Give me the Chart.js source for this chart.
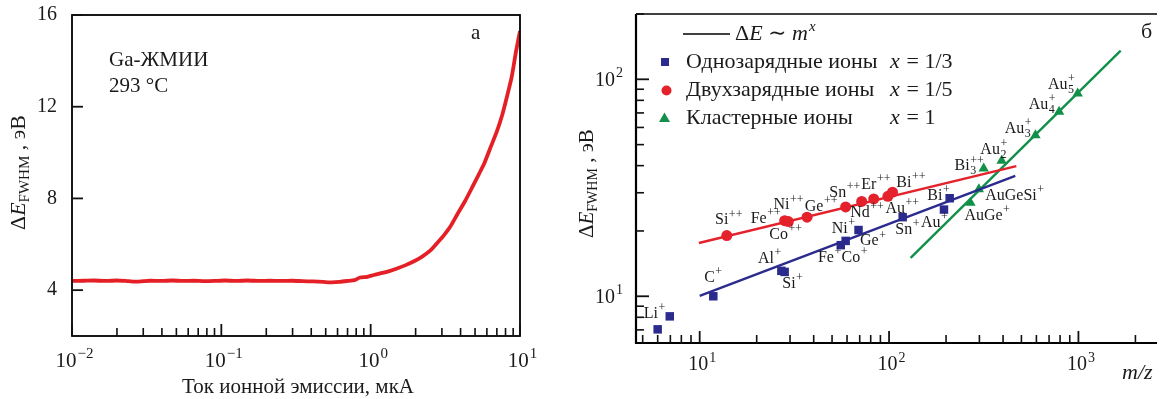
<!DOCTYPE html>
<html>
<head>
<meta charset="utf-8">
<script src="https://cdn.jsdelivr.net/npm/chart.js@4.4.1/dist/chart.umd.min.js"></script>
<style>
  html, body { margin: 0; padding: 0; background: #fff; }
  #wrap { position: relative; width: 1163px; height: 399px; overflow: hidden; }
  .panel { position: absolute; top: 0; height: 399px; }
  #panel-a { left: 0; width: 550px; }
  #panel-b { left: 560px; width: 603px; }
</style>
</head>
<body>
<div id="wrap">
  <div class="panel" id="panel-a"><canvas id="chart-a"></canvas></div>
  <div class="panel" id="panel-b"><canvas id="chart-b"></canvas></div>
</div>
<script>
// ---- Panel а: energy spread of Ga LMIS vs emission current ----
const emissionCurrent = [
  0.010, 0.012, 0.014, 0.017, 0.020, 0.024, 0.028, 0.033, 0.040, 0.047,
  0.055, 0.065, 0.077, 0.090, 0.105, 0.125, 0.15, 0.18, 0.21, 0.25,
  0.30, 0.35, 0.41, 0.48, 0.55, 0.62, 0.70, 0.78, 0.85, 0.95,
  1.05, 1.2, 1.35, 1.5, 1.7, 1.95, 2.2, 2.5, 2.8, 3.1,
  3.4, 3.8, 4.3, 4.8, 5.3, 5.8, 6.4, 7.0, 7.6, 8.2,
  8.8, 9.4, 10.0
];
const energySpread = [
  4.40, 4.41, 4.42, 4.40, 4.42, 4.39, 4.37, 4.41, 4.40, 4.42,
  4.40, 4.41, 4.39, 4.40, 4.42, 4.40, 4.42, 4.40, 4.41, 4.40,
  4.41, 4.39, 4.38, 4.36, 4.34, 4.36, 4.40, 4.44, 4.55, 4.58,
  4.66, 4.75, 4.84, 4.94, 5.08, 5.26, 5.45, 5.72, 6.07, 6.40,
  6.75, 7.30, 7.90, 8.50, 9.05, 9.57, 10.28, 10.92, 11.64, 12.47,
  13.30, 14.40, 15.30
];
const currentTicks = [0.01, 0.1, 1, 10];
const currentTickExp = ['−2', '−1', '0', '1'];
const spreadTicks = [4, 8, 12, 16];

// ---- Panel б: energy spread vs m/z for different ion kinds ----
const singlyMz = [6.0, 6.95, 11.8, 27.0, 28.1, 55.6, 59.0, 69.0, 118, 195, 209];
const singlyDE = [7.04, 8.08, 10.0, 13.1, 12.95, 17.2, 18.0, 20.2, 23.15, 25.1, 28.3];
const doublyMz = [13.9, 28.1, 29.4, 36.9, 59.0, 71.7, 83.0, 98.6, 104.3];
const doublyDE = [19.05, 22.3, 22.1, 23.15, 25.8, 27.35, 28.1, 28.9, 30.2];
const clusterMz = [269, 298, 316, 393, 593, 791, 991];
const clusterDE = [26.96, 31.1, 38.8, 42.1, 55.3, 70.9, 86.1];

// fitted power laws ΔE ~ m^x, drawn between their end points
const fitSinglyMz = [10, 464];
const fitSinglyDE = [10.03, 35.9];
const fitDoublyMz = [9.9, 470];
const fitDoublyDE = [17.6, 39.8];
const fitClusterMz = [130, 1672];
const fitClusterDE = [15.03, 135.6];

const mzTicks = [10, 100, 1000];
const mzTickExp = ['1', '2', '3'];
const deTicks = [10, 100];
const deTickExp = ['1', '2'];

// ion name, superscript, subscript, anchor m/z, anchor ΔE
const ionLabels = [
  ['Li', '+', '', 5.07, 8.32],
  ['C', '+', '', 10.56, 12.2],
  ['Al', '+', '', 20.3, 14.93],
  ['Si', '+', '', 27.3, 11.45],
  ['Fe', '+', '', 42.1, 15.09],
  ['Co', '+', '', 56.1, 15.09],
  ['Ni', '+', '', 49.8, 20.5],
  ['Ge', '+', '', 70.3, 17.94],
  ['Sn', '+', '', 107.9, 20.3],
  ['Nd', '++', '', 62.4, 24.2],
  ['Au', '++', '', 95.7, 25.4],
  ['Au', '+', '', 147.5, 21.9],
  ['Bi', '+', '', 159.3, 29.2],
  ['Si', '++', '', 12.05, 22.4],
  ['Fe', '++', '', 18.6, 22.8],
  ['Co', '++', '', 23.3, 19.3],
  ['Ni', '++', '', 24.5, 26.3],
  ['Ge', '++', '', 35.9, 25.8],
  ['Sn', '++', '', 48.4, 30.0],
  ['Er', '++', '', 71.4, 32.8],
  ['Bi', '++', '', 109.2, 33.3],
  ['Bi', '++', '3', 221.8, 39.8],
  ['Au', '+', '2', 303.4, 47.2],
  ['Au', '+', '3', 408.3, 59.4],
  ['Au', '+', '4', 547, 76.1],
  ['Au', '+', '5', 690, 94.1],
  ['AuGeSi', '+', '', 322, 29.2],
  ['AuGe', '+', '', 250, 23.6]
];

const SERIF = '"Liberation Serif", "DejaVu Serif", serif';
const INK = '#1a1a1a';
const TICK = '#111';
const BLUE = '#2b2b8e';
const RED = '#e4222b';
const GREEN = '#109049';

Chart.defaults.font.family = SERIF;
Chart.defaults.color = INK;

// minor log ticks 2..9 inside every decade
function minorTicks(decades, lo, hi) {
  const out = [];
  decades.forEach(d => {
    for (let k = 2; k <= 9; k++) {
      if (k * d > lo && k * d <= hi) out.push(k * d);
    }
  });
  return out;
}

function toPoints(xs, ys) {
  return xs.map((x, i) => ({ x: x, y: ys[i] }));
}

// inward tick marks drawn as thin filled bars along the bottom or left side
function tickBars(ctx, scale, values, len, width, horizontal, area) {
  values.forEach(v => {
    const p = scale.getPixelForValue(v);
    if (!isFinite(p)) return;
    if (horizontal) {
      ctx.fillRect(p - width / 2, area.bottom - len, width, len);
    } else {
      ctx.fillRect(area.left, p - width / 2, len, width);
    }
  });
}

// "10" with a raised exponent
function powerLabel(ctx, cx, cy, exp, size, align) {
  ctx.font = size + 'px ' + SERIF;
  const wb = ctx.measureText('10').width;
  ctx.font = Math.round(size * 0.7) + 'px ' + SERIF;
  const we = ctx.measureText(exp).width;
  let x0 = cx - (wb + we) / 2;
  if (align === 'right') x0 = cx - wb - we;
  ctx.textAlign = 'left';
  ctx.textBaseline = 'middle';
  ctx.font = size + 'px ' + SERIF;
  ctx.fillText('10', x0, cy);
  ctx.font = Math.round(size * 0.7) + 'px ' + SERIF;
  ctx.fillText(exp, x0 + wb + 1, cy - size * 0.33);
}

// ΔE_FWHM, эВ written bottom-to-top
function yTitle(ctx, cx, startY, size, subSize) {
  ctx.save();
  ctx.translate(cx, startY);
  ctx.rotate(-Math.PI / 2);
  ctx.textAlign = 'left';
  ctx.textBaseline = 'middle';
  ctx.fillStyle = INK;
  let x = 0;
  const put = (t, font, dy) => {
    ctx.font = font;
    ctx.fillText(t, x, dy);
    x += ctx.measureText(t).width;
  };
  put('Δ', size + 'px ' + SERIF, 0);
  put('E', 'italic ' + size + 'px ' + SERIF, 0);
  put('FWHM', subSize + 'px ' + SERIF, size * 0.28);
  put(' , эВ', size + 'px ' + SERIF, 0);
  ctx.restore();
}

function ionText(ctx, x, y, base, sup, sub, size) {
  ctx.font = size + 'px ' + SERIF;
  ctx.fillText(base, x, y);
  const w = ctx.measureText(base).width + 0.5;
  ctx.font = Math.round(size * 0.72) + 'px ' + SERIF;
  if (sup) ctx.fillText(sup, x + w, y - size * 0.36);
  if (sub) ctx.fillText(sub, x + w, y + size * 0.32);
}

const axesA = {
  id: 'axesA',
  afterDraw(chart) {
    const { ctx, chartArea: a, scales } = chart;
    ctx.save();
    ctx.strokeStyle = '#000';
    ctx.lineWidth = 1.8;
    ctx.strokeRect(a.left, a.top, a.right - a.left, a.bottom - a.top);

    ctx.fillStyle = TICK;
    tickBars(ctx, scales.x, currentTicks, 12, 1.8, true, a);
    tickBars(ctx, scales.x, minorTicks([0.01, 0.1, 1], 0.01, 10), 8, 1.6, true, a);
    tickBars(ctx, scales.y, spreadTicks, 11, 1.8, false, a);

    ctx.fillStyle = INK;
    currentTicks.forEach((v, i) => {
      powerLabel(ctx, scales.x.getPixelForValue(v) + 2, 361, currentTickExp[i], 21, 'center');
    });
    ctx.textAlign = 'right';
    ctx.textBaseline = 'middle';
    ctx.font = '20px ' + SERIF;
    spreadTicks.forEach(v => {
      ctx.fillText(String(v), a.left - 15, scales.y.getPixelForValue(v));
    });

    ctx.textAlign = 'left';
    ctx.font = '21px ' + SERIF;
    ctx.fillText('Ga-ЖМИИ', 109, 60);
    ctx.fillText('293 °C', 109, 86);
    ctx.fillText('а', 471, 33);

    ctx.textAlign = 'center';
    ctx.fillText('Ток ионной эмиссии, мкА', (a.left + a.right) / 2 + 2, 387);

    yTitle(ctx, 19, 230, 22, 15);
    ctx.restore();
  }
};

const axesB = {
  id: 'axesB',
  afterDraw(chart) {
    const { ctx, chartArea: a, scales } = chart;
    const L = a.left;
    ctx.save();
    ctx.strokeStyle = '#000';
    ctx.lineWidth = 2.2;
    ctx.beginPath();
    ctx.moveTo(L, a.top);
    ctx.lineTo(L, a.bottom);
    ctx.lineTo(a.right, a.bottom);
    ctx.stroke();
    ctx.lineWidth = 1.6;
    ctx.beginPath();
    ctx.moveTo(L, a.top);
    ctx.lineTo(a.right, a.top);
    ctx.stroke();

    ctx.fillStyle = TICK;
    tickBars(ctx, scales.x, mzTicks, 12, 1.8, true, a);
    tickBars(ctx, scales.y, deTicks, 13, 1.8, false, a);
    tickBars(ctx, scales.x, minorTicks([1, 10, 100, 1000], scales.x.min, scales.x.max), 8, 1.6, true, a);
    tickBars(ctx, scales.y, minorTicks([1, 10, 100], scales.y.min, scales.y.max), 8, 1.6, false, a);

    ctx.fillStyle = INK;
    mzTicks.forEach((v, i) => {
      powerLabel(ctx, scales.x.getPixelForValue(v) + 2, 365, mzTickExp[i], 20, 'center');
    });
    deTicks.forEach((v, i) => {
      powerLabel(ctx, L - 14, scales.y.getPixelForValue(v) + 1, deTickExp[i], 20, 'right');
    });

    // legend
    ctx.fillStyle = INK;
    ctx.textBaseline = 'middle';
    ctx.textAlign = 'left';
    ctx.lineWidth = 1.6;
    ctx.beginPath();
    ctx.moveTo(L + 47, 34);
    ctx.lineTo(L + 94, 34);
    ctx.stroke();
    ctx.font = '22px ' + SERIF;
    ctx.fillText('Δ', L + 99, 34);
    let x = L + 99 + ctx.measureText('Δ').width;
    ctx.font = 'italic 22px ' + SERIF;
    ctx.fillText('E', x, 34);
    x += ctx.measureText('E').width;
    ctx.font = '22px ' + SERIF;
    ctx.fillText(' ∼ ', x, 34);
    x += ctx.measureText(' ∼ ').width;
    ctx.font = 'italic 22px ' + SERIF;
    ctx.fillText('m', x, 34);
    x += ctx.measureText('m').width;
    ctx.font = 'italic 15px ' + SERIF;
    ctx.fillText('x', x + 1, 27);

    const rows = [
      ['Однозарядные ионы', '1/3', BLUE, 'rect', 62],
      ['Двухзарядные ионы', '1/5', RED, 'circle', 90.5],
      ['Кластерные ионы', '1', GREEN, 'triangle', 118.5]
    ];
    rows.forEach(r => {
      ctx.fillStyle = r[2];
      ctx.beginPath();
      if (r[3] === 'rect') ctx.rect(L + 25, r[4] - 4, 8, 8);
      if (r[3] === 'circle') ctx.arc(L + 30.5, r[4], 5, 0, Math.PI * 2);
      if (r[3] === 'triangle') {
        ctx.moveTo(L + 28.5, r[4] - 6);
        ctx.lineTo(L + 34, r[4] + 3.5);
        ctx.lineTo(L + 23, r[4] + 3.5);
        ctx.closePath();
      }
      ctx.fill();
      ctx.fillStyle = INK;
      ctx.font = '22px ' + SERIF;
      ctx.fillText(r[0], L + 50, r[4]);
      ctx.font = 'italic 22px ' + SERIF;
      ctx.fillText('x', L + 254, r[4]);
      ctx.font = '22px ' + SERIF;
      ctx.fillText(' = ' + r[1], L + 254 + ctx.measureText('x').width, r[4]);
    });

    // ion annotations
    ctx.fillStyle = INK;
    ctx.textBaseline = 'middle';
    ionLabels.forEach(l => {
      ionText(ctx, scales.x.getPixelForValue(l[3]), scales.y.getPixelForValue(l[4]), l[0], l[1], l[2], 16);
    });

    ctx.font = '22px ' + SERIF;
    ctx.fillText('б', 581, 32);
    ctx.font = 'italic 22px ' + SERIF;
    ctx.fillText('m/z', 562, 373);

    yTitle(ctx, 27, 238, 21, 14);
    ctx.restore();
  }
};

new Chart(document.getElementById('chart-a'), {
  type: 'line',
  data: {
    datasets: [{
      data: toPoints(emissionCurrent, energySpread),
      borderColor: 'rgb(228, 32, 38)',
      borderWidth: 3.8,
      pointRadius: 0,
      tension: 0.2
    }]
  },
  options: {
    responsive: true,
    maintainAspectRatio: false,
    animation: false,
    layout: { padding: { left: 0, right: 30, top: 15, bottom: 0 } },
    plugins: { legend: { display: false }, tooltip: { enabled: false } },
    scales: {
      x: {
        type: 'logarithmic',
        min: 0.01,
        max: 10,
        grid: { display: false },
        border: { display: false },
        ticks: { display: false },
        afterFit: s => { s.height = 63; }
      },
      y: {
        min: 2,
        max: 16,
        grid: { display: false },
        border: { display: false },
        ticks: { display: false },
        afterFit: s => { s.width = 72; }
      }
    }
  },
  plugins: [axesA]
});

new Chart(document.getElementById('chart-b'), {
  type: 'scatter',
  data: {
    datasets: [
      { data: toPoints(fitSinglyMz, fitSinglyDE), showLine: true, borderColor: BLUE, borderWidth: 2.4, pointRadius: 0 },
      { data: toPoints(fitDoublyMz, fitDoublyDE), showLine: true, borderColor: RED, borderWidth: 2.4, pointRadius: 0 },
      { data: toPoints(fitClusterMz, fitClusterDE), showLine: true, borderColor: GREEN, borderWidth: 2.4, pointRadius: 0 },
      { data: toPoints(singlyMz, singlyDE), pointStyle: 'rect', pointRadius: 6, backgroundColor: BLUE, borderWidth: 0 },
      { data: toPoints(doublyMz, doublyDE), pointStyle: 'circle', pointRadius: 5.5, backgroundColor: RED, borderWidth: 0 },
      { data: toPoints(clusterMz, clusterDE), pointStyle: 'triangle', pointRadius: 6, backgroundColor: GREEN, borderWidth: 0 }
    ]
  },
  options: {
    responsive: true,
    maintainAspectRatio: false,
    animation: false,
    layout: { padding: { left: 0, right: 0, top: 14, bottom: 0 } },
    plugins: { legend: { display: false }, tooltip: { enabled: false } },
    scales: {
      x: {
        type: 'logarithmic',
        min: 4.61,
        max: 2600,
        grid: { display: false },
        border: { display: false },
        ticks: { display: false },
        afterFit: s => { s.height = 56; }
      },
      y: {
        type: 'logarithmic',
        min: 6.09,
        max: 200,
        grid: { display: false },
        border: { display: false },
        ticks: { display: false },
        afterFit: s => { s.width = 76; }
      }
    }
  },
  plugins: [axesB]
});
</script>
</body>
</html>
